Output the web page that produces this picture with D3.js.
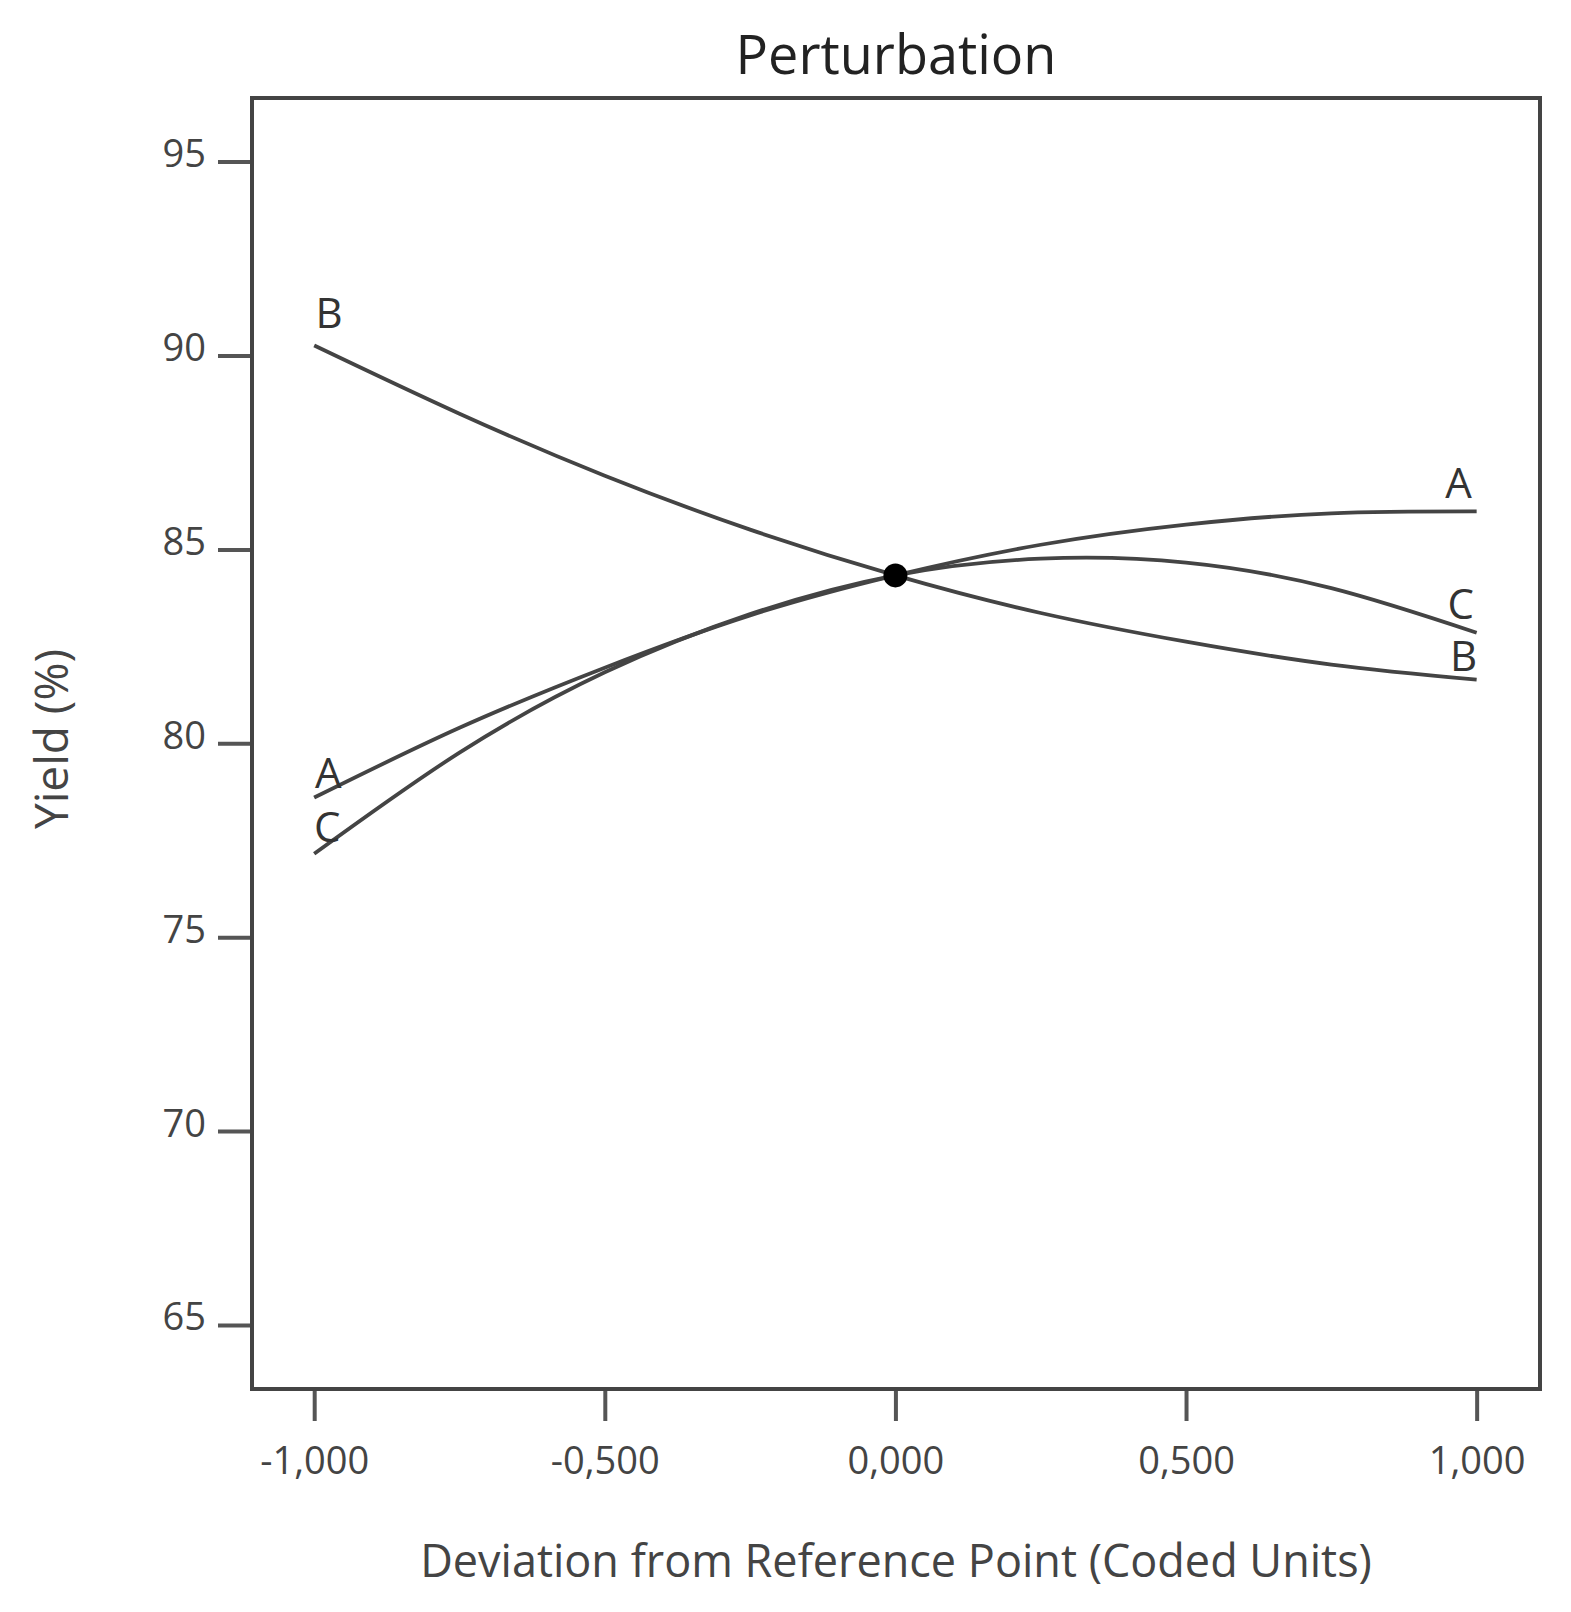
<!DOCTYPE html>
<html>
<head>
<meta charset="utf-8">
<script src="https://cdn.jsdelivr.net/npm/d3@7"></script>
<style>
  body { margin: 0; background: #fff; }
  text { font-family: "Open Sans", "Noto Sans", sans-serif; }
</style>
</head>
<body>
<div id="chart"></div>
<script>
// valores (desvio em unidades codificadas)
var desvio = [-1, -0.75, -0.5, -0.25, 0, 0.25, 0.5, 0.75, 1];
var fatorA = [78.6, 80.4, 81.95, 83.3, 84.33, 85.12, 85.64, 85.93, 85.98];
var fatorB = [90.26, 88.5, 86.9, 85.51, 84.33, 83.36, 82.62, 82.03, 81.64];
var fatorC = [77.15, 79.76, 81.83, 83.33, 84.33, 84.76, 84.66, 84.0, 82.85];
var ticksX = [-1, -0.5, 0, 0.5, 1];
var ticksY = [65, 70, 75, 80, 85, 90, 95];
var ponto_ref = [0, 84.33];

var W = 1571, H = 1612;
var margem = { left: 252, right: 31, top: 98, bottom: 223 };

var svg = d3.select("#chart").append("svg")
    .attr("width", W)
    .attr("height", H);

var x = d3.scaleLinear().domain([-1.107, 1.109]).range([margem.left, W - margem.right]);
var y = d3.scaleLinear().domain([63.35, 96.64]).range([H - margem.bottom, margem.top]);

// vírgula como separador decimal e hífen comum como sinal de menos
var locale = d3.formatLocale({ decimal: ",", thousands: ".", grouping: [3], currency: ["", ""], minus: "-" });
var fmtX = locale.format(".3f");

// eixo y
var eixoY = svg.append("g")
    .attr("transform", "translate(" + margem.left + ",0)")
    .call(d3.axisLeft(y).tickValues(ticksY).tickSize(34).tickPadding(12));
eixoY.select(".domain").remove();
eixoY.selectAll("line").attr("stroke", "#555").attr("stroke-width", 4);
eixoY.selectAll("text")
    .attr("fill", "#444")
    .attr("font-size", 38)
    .attr("dy", "0.13em");

// eixo x
var eixoX = svg.append("g")
    .attr("transform", "translate(0," + (H - margem.bottom) + ")")
    .call(d3.axisBottom(x).tickValues(ticksX).tickFormat(fmtX).tickSize(32).tickPadding(26));
eixoX.select(".domain").remove();
eixoX.selectAll("line").attr("stroke", "#555").attr("stroke-width", 4);
eixoX.selectAll("text")
    .attr("fill", "#444")
    .attr("font-size", 38);

// moldura
svg.append("rect")
    .attr("x", margem.left)
    .attr("y", margem.top)
    .attr("width", W - margem.right - margem.left)
    .attr("height", H - margem.bottom - margem.top)
    .attr("fill", "none")
    .attr("stroke", "#444")
    .attr("stroke-width", 4);

// curvas
var series = [
    { nome: "A", vals: fatorA, esq: [14, -10], dir: [-18, -13] },
    { nome: "B", vals: fatorB, esq: [15, -17], dir: [-13, -9] },
    { nome: "C", vals: fatorC, esq: [13, -12], dir: [-16, -14] }
];

var linha = d3.line()
    .x((d, i) => x(desvio[i]))
    .y(d => y(d))
    .curve(d3.curveNatural);

series.forEach(function (s) {
    svg.append("path")
        .attr("d", linha(s.vals))
        .attr("fill", "none")
        .attr("stroke", "#444")
        .attr("stroke-width", 3.8);

    var n = s.vals.length - 1;
    svg.append("text")
        .attr("x", x(desvio[0]) + s.esq[0])
        .attr("y", y(s.vals[0]) + s.esq[1])
        .attr("text-anchor", "middle")
        .attr("font-size", 42)
        .attr("fill", "#333")
        .text(s.nome);
    svg.append("text")
        .attr("x", x(desvio[n]) + s.dir[0])
        .attr("y", y(s.vals[n]) + s.dir[1])
        .attr("text-anchor", "middle")
        .attr("font-size", 42)
        .attr("fill", "#333")
        .text(s.nome);
});

// ponto de referência
svg.append("circle")
    .attr("cx", x(ponto_ref[0]))
    .attr("cy", y(ponto_ref[1]))
    .attr("r", 12)
    .attr("fill", "#000");

// títulos
svg.append("text")
    .attr("x", (margem.left + W - margem.right) / 2)
    .attr("y", 74)
    .attr("text-anchor", "middle")
    .attr("font-size", 54)
    .attr("fill", "#222")
    .text("Perturbation");

svg.append("text")
    .attr("x", (margem.left + W - margem.right) / 2)
    .attr("y", 1577)
    .attr("text-anchor", "middle")
    .attr("font-size", 45)
    .attr("fill", "#444")
    .text("Deviation from Reference Point (Coded Units)");

svg.append("text")
    .attr("transform", "translate(68,739) rotate(-90)")
    .attr("text-anchor", "middle")
    .attr("font-size", 46)
    .attr("fill", "#444")
    .text("Yield (%)");
</script>
</body>
</html>
